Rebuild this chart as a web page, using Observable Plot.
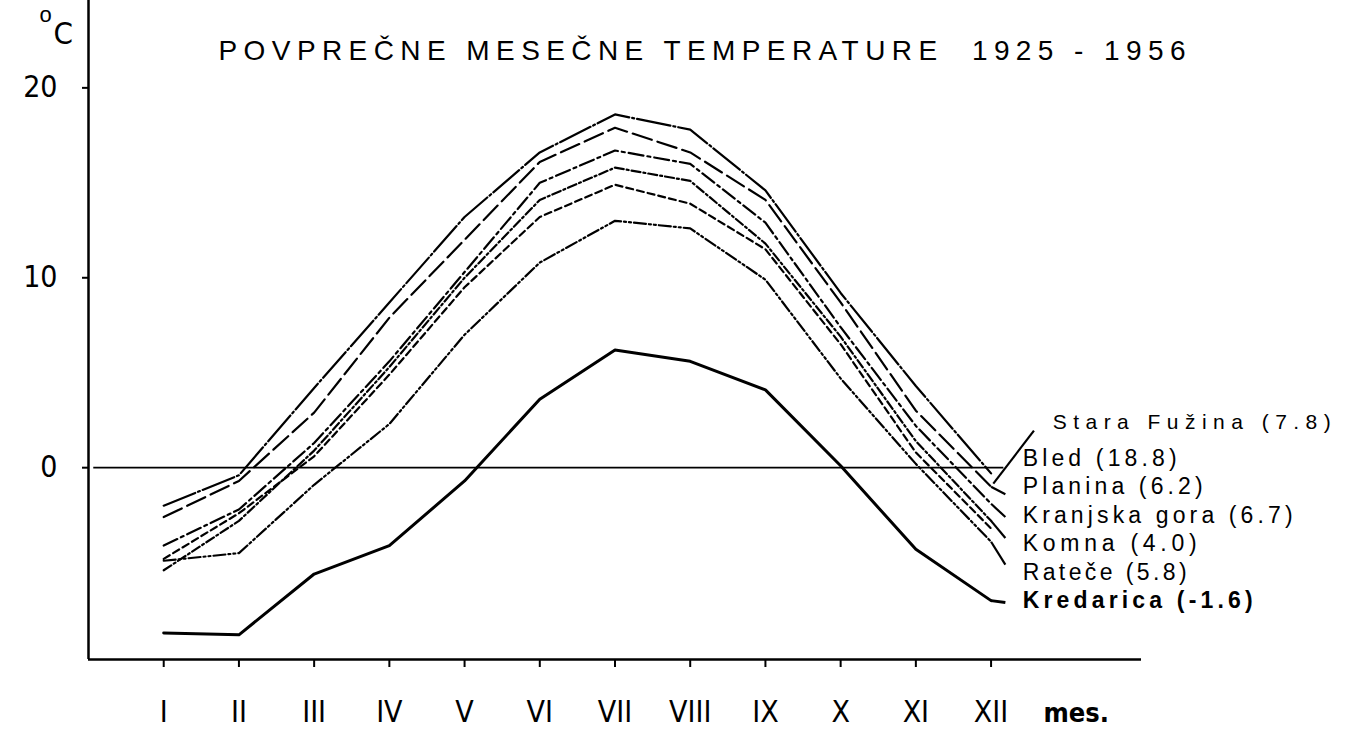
<!DOCTYPE html>
<html>
<head>
<meta charset="utf-8">
<script src="https://cdn.jsdelivr.net/npm/d3@7"></script>
<script src="https://cdn.jsdelivr.net/npm/@observablehq/plot@0.6"></script>
<style>
  html, body { margin: 0; padding: 0; background: #fff; }
  #chart svg { display: block; }
</style>
</head>
<body>
<div id="chart"></div>
<script>
// ---------- DATA ----------
const months = ["I", "II", "III", "IV", "V", "VI", "VII", "VIII", "IX", "X", "XI", "XII"];
const yTicks = [0, 10, 20];
const titleText = "POVPREČNE MESEČNE TEMPERATURE  1925 - 1956";
const unitLabel = "mes.";

const stations = ["Stara Fužina", "Bled", "Planina", "Kranjska gora", "Komna", "Rateče", "Kredarica"];
const annualMeans = ["7.8", "18.8", "6.2", "6.7", "4.0", "5.8", "-1.6"];

const bled         = [-2.0, -0.4,  4.2,  8.7, 13.2, 16.6, 18.6, 17.8, 14.6,  9.2,  4.3, -0.3];
const staraFuzina  = [-2.6, -0.7,  2.9,  7.9, 12.0, 16.1, 17.9, 16.6, 14.1,  8.7,  3.0, -1.0];
const kranjskaGora = [-4.1, -2.2,  1.3,  5.6, 10.3, 15.0, 16.7, 16.0, 12.9,  7.4,  2.2, -1.9];
const planina      = [-5.4, -2.8,  0.9,  5.3, 10.0, 14.1, 15.8, 15.1, 11.8,  6.9,  1.4, -2.8];
const ratece       = [-4.8, -2.4,  0.6,  4.9,  9.5, 13.2, 14.9, 13.9, 11.5,  6.5,  0.8, -3.2];
const komna        = [-4.9, -4.5, -0.9,  2.3,  7.0, 10.8, 13.0, 12.6,  9.9,  4.7,  0.2, -3.9];
const kredarica    = [-8.7, -8.8, -5.6, -4.1, -0.7,  3.6,  6.2,  5.6,  4.1,  0.1, -4.3, -7.0];

// ---------- STYLE / LAYOUT ----------
const FONT = "'Liberation Sans', Arial, sans-serif";
const NARROW = "'Liberation Sans Narrow', 'Arial Narrow', 'DejaVu Sans Condensed', sans-serif";
const yMin = -10.1, yMax = 24.6;
const monthNums = months.map((_, i) => i + 1);

const seriesStyle = [
  { name: "Bled",          values: bled,         dash: "34,3,2,3",        width: 2.2 },
  { name: "Stara Fužina",  values: staraFuzina,  dash: "20,6",            width: 2.2 },
  { name: "Kranjska gora", values: kranjskaGora, dash: "15,4,3,4",        width: 2.2 },
  { name: "Planina",       values: planina,      dash: "9,3,2,3",         width: 2.2 },
  { name: "Rateče",        values: ratece,       dash: "7,4",             width: 2.2 },
  { name: "Komna",         values: komna,        dash: "12,3,2,3,2,3",    width: 2.2 },
  { name: "Kredarica",     values: kredarica,    dash: null,              width: 3.0 }
];

// label placement (in chart units) – layout, not data
const labelLayout = {
  "Stara Fužina":  { x: 12.82, y: 2.40,  size: 21, weight: 400, len: 278 },
  "Bled":          { x: 12.42, y: 0.50,  size: 23, weight: 400, len: 154 },
  "Planina":       { x: 12.42, y: -1.00, size: 23, weight: 400, len: 180 },
  "Kranjska gora": { x: 12.42, y: -2.50, size: 23, weight: 400, len: 270 },
  "Komna":         { x: 12.42, y: -4.00, size: 23, weight: 400, len: 174 },
  "Rateče":        { x: 12.42, y: -5.50, size: 23, weight: 400, len: 164 },
  "Kredarica":     { x: 12.42, y: -7.00, size: 23, weight: 700, len: 230 }
};
// short tails after December toward labels
const tails = {
  "Stara Fužina": -1.4, "Kranjska gora": -2.6, "Planina": -3.7, "Komna": -5.1, "Kredarica": -7.1
};

const lineMarks = seriesStyle.map(s =>
  Plot.line(s.values, {
    x: (d, i) => monthNums[i],
    y: d => d,
    stroke: "black",
    strokeWidth: s.width,
    strokeDasharray: s.dash || undefined,
    strokeLinejoin: "round",
    curve: "linear"
  })
);

const tailRows = seriesStyle
  .filter(s => tails[s.name] !== undefined)
  .map(s => ({ x1: 12, y1: s.values[11], x2: 12.19, y2: tails[s.name], w: s.width }));

const labelMarks = stations.map((name, i) => {
  const L = labelLayout[name];
  return Plot.text([`${name} (${annualMeans[i]})`], {
    x: () => L.x, y: () => L.y,
    text: d => d,
    textAnchor: "start",
    lineAnchor: "middle",
    fontSize: L.size,
    fontWeight: L.weight,
    fontFamily: FONT,
    fill: "black"
  });
});

const chart = Plot.plot({
  width: 1351,
  height: 729,
  marginLeft: 88,
  marginRight: 210,
  marginTop: 0,
  marginBottom: 70,
  x: { domain: [0, 14] },
  y: { domain: [yMin, yMax] },
  style: { fontFamily: FONT, background: "white", color: "black" },
  marks: [
    Plot.axisY(yTicks, {
      anchor: "left", tickSize: 6, tickPadding: 25, fontSize: 30,
      fontFamily: NARROW, fontWeight: 500, strokeWidth: 2, tickFormat: d => String(d), label: null
    }),
    Plot.axisX(monthNums, {
      anchor: "bottom", tickSize: 8, tickPadding: 33, fontSize: 30,
      fontFamily: NARROW, fontWeight: 500, strokeWidth: 2, tickFormat: d => months[d - 1], label: null
    }),
    Plot.ruleX([0], { stroke: "black", strokeWidth: 2.5 }),
    Plot.ruleY([yMin], { stroke: "black", strokeWidth: 2.5 }),
    Plot.ruleY([0], { x1: 0.07, x2: 12.17, stroke: "black", strokeWidth: 1.8 }),
    ...lineMarks,
    Plot.link(tailRows, { x1: "x1", y1: "y1", x2: "x2", y2: "y2", stroke: "black", strokeWidth: d => d.w }),
    Plot.link([0], { x1: () => 12.57, y1: () => 1.95, x2: () => 12.03, y2: () => -0.84, stroke: "black", strokeWidth: 2.2 }),
    ...labelMarks,
    Plot.text([titleText], {
      frameAnchor: "top-left", dx: 130, dy: 51, text: d => d,
      textAnchor: "start", lineAnchor: "middle", fontSize: 28, fontFamily: FONT, fill: "black"
    }),
    Plot.text(["o"], {
      frameAnchor: "top-left", dx: -49, dy: 14, text: d => d,
      textAnchor: "start", lineAnchor: "middle", fontSize: 22, fontFamily: FONT, fill: "black"
    }),
    Plot.text(["C"], {
      frameAnchor: "top-left", dx: -35, dy: 34, text: d => d,
      textAnchor: "start", lineAnchor: "middle", fontSize: 31, fontFamily: NARROW, fill: "black"
    }),
    Plot.text([unitLabel], {
      frameAnchor: "bottom-left", dx: 955, dy: 54, text: d => d,
      textAnchor: "start", lineAnchor: "middle", fontSize: 27, fontWeight: 600, fontFamily: NARROW, fill: "black"
    })
  ]
});

// text widths (spacing) to match reference lettering
const widths = { [titleText]: 967 };
stations.forEach((n, i) => { widths[`${n} (${annualMeans[i]})`] = labelLayout[n].len; });
d3.select(chart).selectAll("text").each(function () {
  const t = this.textContent;
  if (widths[t]) {
    this.setAttribute("textLength", widths[t]);
    this.setAttribute("lengthAdjust", "spacing");
    this.style.whiteSpace = "pre";
  }
});

document.getElementById("chart").appendChild(chart);
</script>
</body>
</html>
